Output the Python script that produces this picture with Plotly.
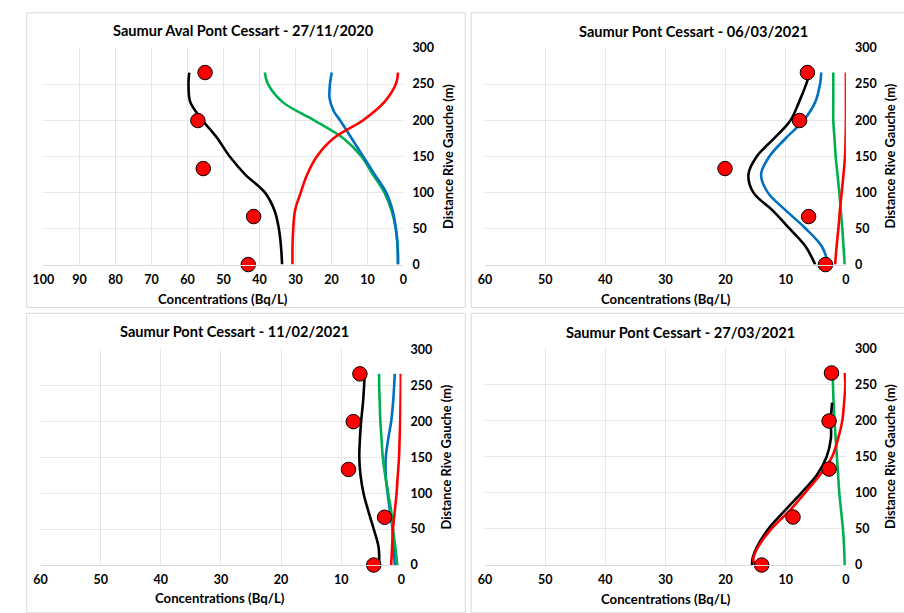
import plotly.graph_objects as go

W, H = 904, 613

# ---------------- data ----------------
TITLES = ["Saumur Aval Pont Cessart - 27/11/2020", "Saumur Pont Cessart - 06/03/2021",
          "Saumur Pont Cessart - 11/02/2021", "Saumur Pont Cessart - 27/03/2021"]
X_MAX = [100, 60, 60, 60]
Y_TICKS = [0, 50, 100, 150, 200, 250, 300]

DOT_Y = [0, 66.5, 133, 199.5, 266]
P1_DOTS = [43.1, 41.6, 55.6, 57.1, 55.1]
P2_DOTS = [3.4, 6.2, 20.1, 7.7, 6.4]
P3_DOTS = [4.6, 2.8, 8.8, 8.0, 6.9]
P4_DOTS = [14.0, 8.8, 2.8, 2.8, 2.4]

CY = [0, 25, 50, 75, 100, 125, 150, 175, 200, 225, 250, 266]
P1_BLACK = [33.7, 34.0, 34.6, 35.8, 38.5, 44.0, 48.3, 51.7, 55.8, 59.2, 59.7, 59.5]
P1_GREEN = [1.5, 1.6, 2.1, 3.3, 5.3, 8.5, 11.7, 16.7, 24.9, 33.5, 37.6, 38.5]
P1_BLUE_Y = [0, 25, 50, 75, 100, 125, 150, 175, 200, 212, 230, 250, 266]
P1_BLUE = [1.5, 1.6, 2.1, 3.0, 4.8, 8.0, 11.2, 14.4, 17.6, 19.3, 20.5, 20.4, 19.9]
P1_RED = [30.8, 30.8, 30.6, 30.1, 28.5, 26.7, 24.0, 19.4, 11.2, 5.3, 2.1, 1.5]

P2_BLACK = [5.1, 6.7, 9.4, 12.2, 15.4, 16.2, 14.8, 11.9, 9.2, 7.8, 6.6, 6.0]
P2_BLUE = [2.9, 4.0, 6.7, 10.0, 13.0, 14.1, 12.7, 10.0, 7.0, 5.1, 4.3, 4.1]
P2_GREEN = [0.2, 0.4, 0.6, 0.85, 1.1, 1.4, 1.7, 1.9, 2.1, 2.1, 2.1, 2.1]
P2_RED = [1.8, 1.55, 1.25, 1.0, 0.7, 0.4, 0.15, 0.05, 0.0, 0.0, 0.0, 0.0]

P3_BLACK = [3.7, 3.8, 4.6, 5.5, 6.3, 6.8, 7.0, 6.9, 6.7, 6.4, 6.2, 6.1]
P3_BLUE = [1.1, 1.3, 1.5, 1.9, 2.3, 2.6, 2.6, 2.2, 1.7, 1.4, 1.2, 1.1]
P3_GREEN = [0.7, 1.0, 1.4, 1.7, 2.2, 2.7, 3.1, 3.3, 3.5, 3.6, 3.7, 3.7]
P3_RED = [1.7, 1.55, 1.4, 1.1, 0.8, 0.6, 0.4, 0.3, 0.2, 0.15, 0.1, 0.1]

P4_BLACK_Y = [0, 10, 25, 50, 75, 100, 125, 150, 175, 200, 225]
P4_BLACK = [15.6, 15.5, 14.8, 12.9, 10.2, 7.4, 4.8, 3.2, 2.5, 2.5, 2.3]
P4_GREEN = [0.2, 0.3, 0.5, 0.8, 1.1, 1.3, 1.5, 1.7, 1.9, 2.05, 2.15, 2.2]
P4_RED_Y = [0, 8, 25, 50, 75, 100, 125, 150, 175, 200, 225, 250, 266]
P4_RED = [15.1, 15.4, 14.6, 12.4, 9.4, 6.8, 4.3, 2.3, 1.3, 0.6, 0.3, 0.1, 0.2]

BLACK, BLUE, GREEN, RED = "#000000", "#0070C0", "#00B050", "#FF0000"

# ---------------- layout geometry (px) ----------------
PLOTS = [(33, 399, 41, 263), (482, 849, 41, 263), (30, 397, 350, 571), (482, 849, 349, 571)]
BOXES = [(16, 462, 5, 307), (468, 910, 5, 307), (16, 462, 313, 620), (468, 910, 313, 620)]
TITLE_POS = [(236, 23), (694, 24), (227, 332), (681, 333)]
XT_POS = [(216, 298), (666, 298), (213, 605), (666, 606)]
YT_POS = [(445, 152), (894, 152), (442, 460), (894, 460)]

FONT = "Lato"
fig = go.Figure()

series = [
    [(P1_BLACK, CY, BLACK), (P1_GREEN, CY, GREEN), (P1_BLUE, P1_BLUE_Y, BLUE), (P1_RED, CY, RED)],
    [(P2_BLACK, CY, BLACK), (P2_BLUE, CY, BLUE), (P2_GREEN, CY, GREEN), (P2_RED, CY, RED)],
    [(P3_BLACK, CY, BLACK), (P3_BLUE, CY, BLUE), (P3_GREEN, CY, GREEN), (P3_RED, CY, RED)],
    [(P4_GREEN, CY, GREEN), (P4_BLACK, P4_BLACK_Y, BLACK), (P4_RED, P4_RED_Y, RED)],
]
dots = [P1_DOTS, P2_DOTS, P3_DOTS, P4_DOTS]

layout = dict(width=W, height=H, margin=dict(l=0, r=0, t=0, b=0),
              paper_bgcolor="white", plot_bgcolor="white", showlegend=False,
              shapes=[], annotations=[])

for i in range(4):
    sfx = "" if i == 0 else str(i + 1)
    xa, ya = "x" + sfx, "y" + sfx
    for xs, ys, col in series[i]:
        fig.add_trace(go.Scatter(x=xs, y=ys, mode="lines", line=dict(color=col, width=2.6, shape="spline", smoothing=1.0),
                                 xaxis=xa, yaxis=ya, hoverinfo="skip"))
    fig.add_trace(go.Scatter(x=dots[i], y=DOT_Y, mode="markers",
                             marker=dict(size=14.5, color=RED, line=dict(color="#000000", width=1)),
                             xaxis=xa, yaxis=ya, cliponaxis=False))
    x0, x1, y0, y1 = PLOTS[i]
    layout["xaxis" + sfx] = dict(domain=[x0 / W, x1 / W], anchor=ya, range=[X_MAX[i], 0], dtick=10,
                                 showgrid=True, gridcolor="#e6e6e6", gridwidth=1, zeroline=False,
                                 showline=True, linecolor="#d9d9d9", linewidth=1,
                                 tickfont=dict(family=FONT, size=12.5, color="#000000", weight="bold"),
                                 ticks="", ticklabelstandoff=3, fixedrange=True)
    layout["yaxis" + sfx] = dict(domain=[1 - y1 / H, 1 - y0 / H], anchor=xa, side="right", range=[0, 300],
                                 tickvals=Y_TICKS, showgrid=True, gridcolor="#e6e6e6", gridwidth=1, zeroline=False,
                                 showline=False,
                                 tickfont=dict(family=FONT, size=12.5, color="#000000", weight="bold"),
                                 ticks="", ticklabelstandoff=8, fixedrange=True)
    bx0, bx1, by0, by1 = BOXES[i]
    layout["shapes"].append(dict(type="rect", xref="paper", yref="paper", x0=bx0 / W, x1=bx1 / W,
                                 y0=1 - by1 / H, y1=1 - by0 / H, line=dict(color="#d9d9d9", width=1), layer="below"))
    tx, ty = TITLE_POS[i]
    layout["annotations"].append(dict(text="<b>" + TITLES[i] + "</b>", x=tx / W, y=1 - ty / H, xref="paper", yref="paper",
                                      showarrow=False, xanchor="center", yanchor="middle",
                                      font=dict(family=FONT, size=14.6, color="#000000")))
    ax, ay = XT_POS[i]
    layout["annotations"].append(dict(text="<b>Concentrations (Bq/L)</b>", x=ax / W, y=1 - ay / H, xref="paper", yref="paper",
                                      showarrow=False, xanchor="center", yanchor="middle",
                                      font=dict(family=FONT, size=13.2, color="#000000")))
    yx, yy = YT_POS[i]
    layout["annotations"].append(dict(text="<b>Distance Rive Gauche (m)</b>", x=yx / W, y=1 - yy / H, xref="paper", yref="paper",
                                      showarrow=False, xanchor="center", yanchor="middle", textangle=-90,
                                      font=dict(family=FONT, size=12.8, color="#000000")))

fig.update_layout(**layout)
fig.write_html("out.html")
